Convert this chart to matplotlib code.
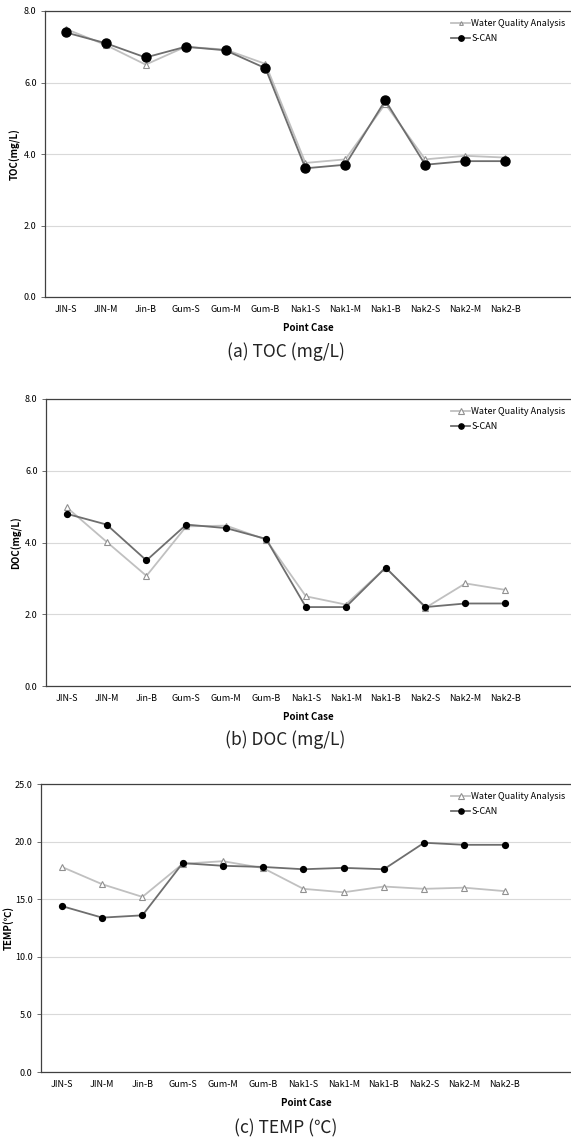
import matplotlib
matplotlib.use('Agg')
import matplotlib.pyplot as plt

plt.rcParams['font.family'] = ['Noto Sans CJK KR', 'DejaVu Sans']

# --- DATA ---
points = ['JIN-S', 'JIN-M', 'Jin-B', 'Gum-S', 'Gum-M', 'Gum-B',
          'Nak1-S', 'Nak1-M', 'Nak1-B', 'Nak2-S', 'Nak2-M', 'Nak2-B']

toc_wqa = [7.5, 7.05, 6.5, 7.0, 6.92, 6.52, 3.75, 3.85, 5.4, 3.85, 3.95, 3.9]
toc_scan = [7.4, 7.1, 6.7, 7.0, 6.9, 6.4, 3.6, 3.7, 5.5, 3.7, 3.8, 3.8]

doc_wqa = [4.98, 4.02, 3.07, 4.45, 4.47, 4.08, 2.5, 2.27, 3.3, 2.18, 2.86, 2.68]
doc_scan = [4.8, 4.5, 3.5, 4.5, 4.4, 4.1, 2.2, 2.2, 3.3, 2.2, 2.3, 2.3]

temp_wqa = [17.8, 16.3, 15.2, 18.07, 18.3, 17.7, 15.9, 15.6, 16.1, 15.9, 16.0, 15.7]
temp_scan = [14.4, 13.4, 13.6, 18.13, 17.9, 17.8, 17.6, 17.72, 17.6, 19.9, 19.72, 19.72]

toc_ticks = [0.0, 2.0, 4.0, 6.0, 8.0]
doc_ticks = [0.0, 2.0, 4.0, 6.0, 8.0]
temp_ticks = [0.0, 5.0, 10.0, 15.0, 20.0, 25.0]

W, H = 571, 1147
fig = plt.figure(figsize=(W / 100, H / 100), dpi=100)

panels = [
    # left, top, bottom (pixels), series, ticks, ylabel, caption, caption_y, dot size, ylabel pad
    (45, 11, 297, toc_wqa, toc_scan, toc_ticks, 'TOC(mg/L)', '(a) TOC (mg/L)', 352, 6.5, 2),
    (46, 399, 686, doc_wqa, doc_scan, doc_ticks, 'DOC(mg/L)', '(b) DOC (mg/L)', 740, 4.2, 2),
    (41, 784, 1072, temp_wqa, temp_scan, temp_ticks, 'TEMP(\u2103)', '(c) TEMP (\u2103)', 1128, 4.2, 0.5),
]

x = list(range(len(points)))
for left, top, bottom, wqa, scan, ticks, ylab, cap, cap_y, ms, ypad in panels:
    ax = fig.add_axes([left / W, 1 - bottom / H, 1 - left / W, (bottom - top) / H])
    ax.plot(x, wqa, color='#c0c0c0', lw=1.3, marker='^', ms=4.5,
            mfc='white', mec='#909090', mew=0.8, label='Water Quality Analysis', zorder=3)
    ax.plot(x, scan, color='#6e6e6e', lw=1.3, marker='o', ms=ms,
            mfc='black', mec='black', label='S-CAN', zorder=4)
    ax.set_ylim(ticks[0], ticks[-1])
    ax.set_yticks(ticks)
    ax.set_yticklabels([f'{t:.1f}' for t in ticks], fontsize=6.5)
    ax.set_xlim(-0.52, 12.65)
    ax.set_xticks(x)
    ax.set_xticklabels(points, fontsize=6.5)
    ax.tick_params(axis='x', length=0, pad=6)
    ax.tick_params(axis='y', length=3, width=0.6, color='#555555', pad=3)
    ax.grid(axis='y', color='#d9d9d9', lw=0.8)
    ax.set_axisbelow(True)
    for s in ['left', 'top', 'bottom']:
        ax.spines[s].set_color('#404040')
        ax.spines[s].set_linewidth(0.9)
    ax.spines['right'].set_visible(False)
    ax.set_ylabel(ylab, fontsize=7, fontweight='bold', labelpad=ypad)
    ax.set_xlabel('Point Case', fontsize=7, fontweight='bold', labelpad=6)
    ax.legend(loc='upper right', frameon=False, fontsize=6.5, handlelength=2.0,
              handletextpad=0.2, borderaxespad=0.2, labelspacing=0.6,
              markerscale=0.6 if ms > 5 else 0.9, bbox_to_anchor=(1.0, 0.99))
    fig.text(0.5, 1 - cap_y / H, cap, ha='center', va='center', fontsize=12.5,
             color='#222222', fontweight='light')

fig.savefig('out.png', dpi=100)
